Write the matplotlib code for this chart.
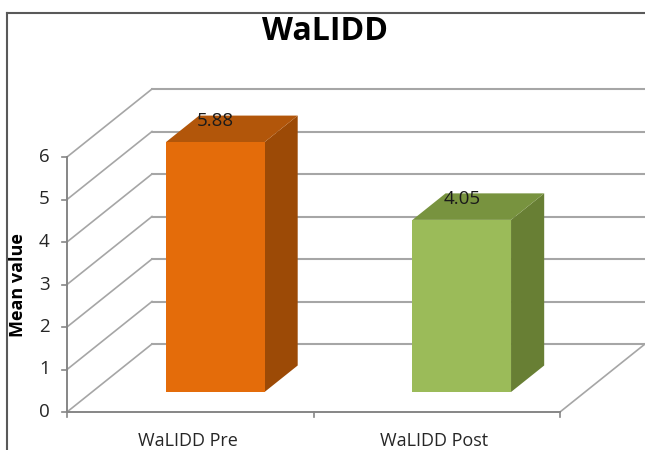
import matplotlib
matplotlib.use("Agg")
import matplotlib.pyplot as plt
from matplotlib.patches import Polygon
from matplotlib.lines import Line2D

categories = ["WaLIDD Pre", "WaLIDD Post"]
values = [5.88, 4.05]
value_labels = ["5.88", "4.05"]
yticks = [0, 1, 2, 3, 4, 5, 6]
title = "WaLIDD"
ylabel = "Mean value"

front_colors = ["#E46C0A", "#9BBB59"]
top_colors = ["#B2560A", "#78933F"]
side_colors = ["#9C4A06", "#687F34"]

plt.rcParams['font.family'] = ['Open Sans', 'DejaVu Sans']

W, H = 645, 450
fig = plt.figure(figsize=(W / 100, H / 100), dpi=100)
ax = fig.add_axes([0, 0, 1, 1])

# pixel geometry of the plot area
x0_px, y0_px = 67, 412
px_per_cat = 246.5
px_per_unit = 42.5
ax.set_xlim(-x0_px / px_per_cat, (W - x0_px) / px_per_cat)
ax.set_ylim(-(H - y0_px) / px_per_unit, y0_px / px_per_unit)
ax.axis("off")

DX = 85 / px_per_cat
DY = 68 / px_per_unit
ncat = len(categories)
ymax = max(yticks)


def proj(x, y, f):
    return (x + f * DX, y + f * DY)


grid_c = "#A6A6A6"
# back wall gridlines and left wall gridlines
for t in yticks:
    a = proj(0, t, 1)
    b = proj(ncat, t, 1)
    ax.add_line(Line2D([a[0], b[0]], [a[1], b[1]], color=grid_c, lw=1.5, zorder=1))
    c = proj(0, t, 0)
    ax.add_line(Line2D([c[0], a[0]], [c[1], a[1]], color=grid_c, lw=1.2, zorder=1))
    ax.add_line(Line2D([-0.022, 0], [t, t], color="#868686", lw=1.2, zorder=2))
    ax.text(-0.07, t, str(t), ha="right", va="center", fontsize=13.5, color="#262626")

# floor edges
p00 = proj(0, 0, 0)
p20 = proj(ncat, 0, 0)
p21 = proj(ncat, 0, 1)
ax.add_line(Line2D([p00[0], p20[0]], [p00[1], p20[1]], color="#868686", lw=1.4, zorder=2))
ax.add_line(Line2D([p20[0], p21[0]], [p20[1], p21[1]], color=grid_c, lw=1.2, zorder=1))
# front vertical axis
ax.add_line(Line2D([0, 0], [0, ymax], color="#868686", lw=1.4, zorder=2))
# x tick marks
for k in range(ncat + 1):
    ax.add_line(Line2D([k, k], [0, -0.12], color="#868686", lw=1.2, zorder=2))

# bars
w = 0.4
f0, f1 = 0.294, 0.684
for i, (v, lab) in enumerate(zip(values, value_labels)):
    c = i + 0.5
    xl, xr = c - w / 2, c + w / 2
    front = [proj(xl, 0, f0), proj(xr, 0, f0), proj(xr, v, f0), proj(xl, v, f0)]
    top = [proj(xl, v, f0), proj(xr, v, f0), proj(xr, v, f1), proj(xl, v, f1)]
    side = [proj(xr, 0, f0), proj(xr, 0, f1), proj(xr, v, f1), proj(xr, v, f0)]
    ax.add_patch(Polygon(side, closed=True, fc=side_colors[i], ec="none", zorder=3))
    ax.add_patch(Polygon(top, closed=True, fc=top_colors[i], ec="none", zorder=3))
    ax.add_patch(Polygon(front, closed=True, fc=front_colors[i], ec="none", zorder=4))
    lx, ly = proj(c, v, f0)
    ax.text(lx, ly + 0.5, lab, ha="center", va="center", fontsize=13.5, color="#1a1a1a", zorder=5)
    ax.text(c - 0.01, -0.68, categories[i], ha="center", va="center", fontsize=13, color="#262626")

# title and axis label
fig.text(325 / W, 1 - 32 / H, title, ha="center", va="center", fontsize=23,
         fontweight="bold", color="#000000")
fig.text(18 / W, 1 - 285 / H, ylabel, ha="center", va="center", rotation=90,
         fontsize=13, fontweight="bold", color="#000000")

# chart frame
fig.add_artist(Line2D([7 / W, 1], [1 - 13 / H, 1 - 13 / H], transform=fig.transFigure,
                      color="#595959", lw=1.5))
fig.add_artist(Line2D([7 / W, 7 / W], [0, 1 - 13 / H], transform=fig.transFigure,
                      color="#595959", lw=1.5))

fig.savefig("out.png", dpi=100)
